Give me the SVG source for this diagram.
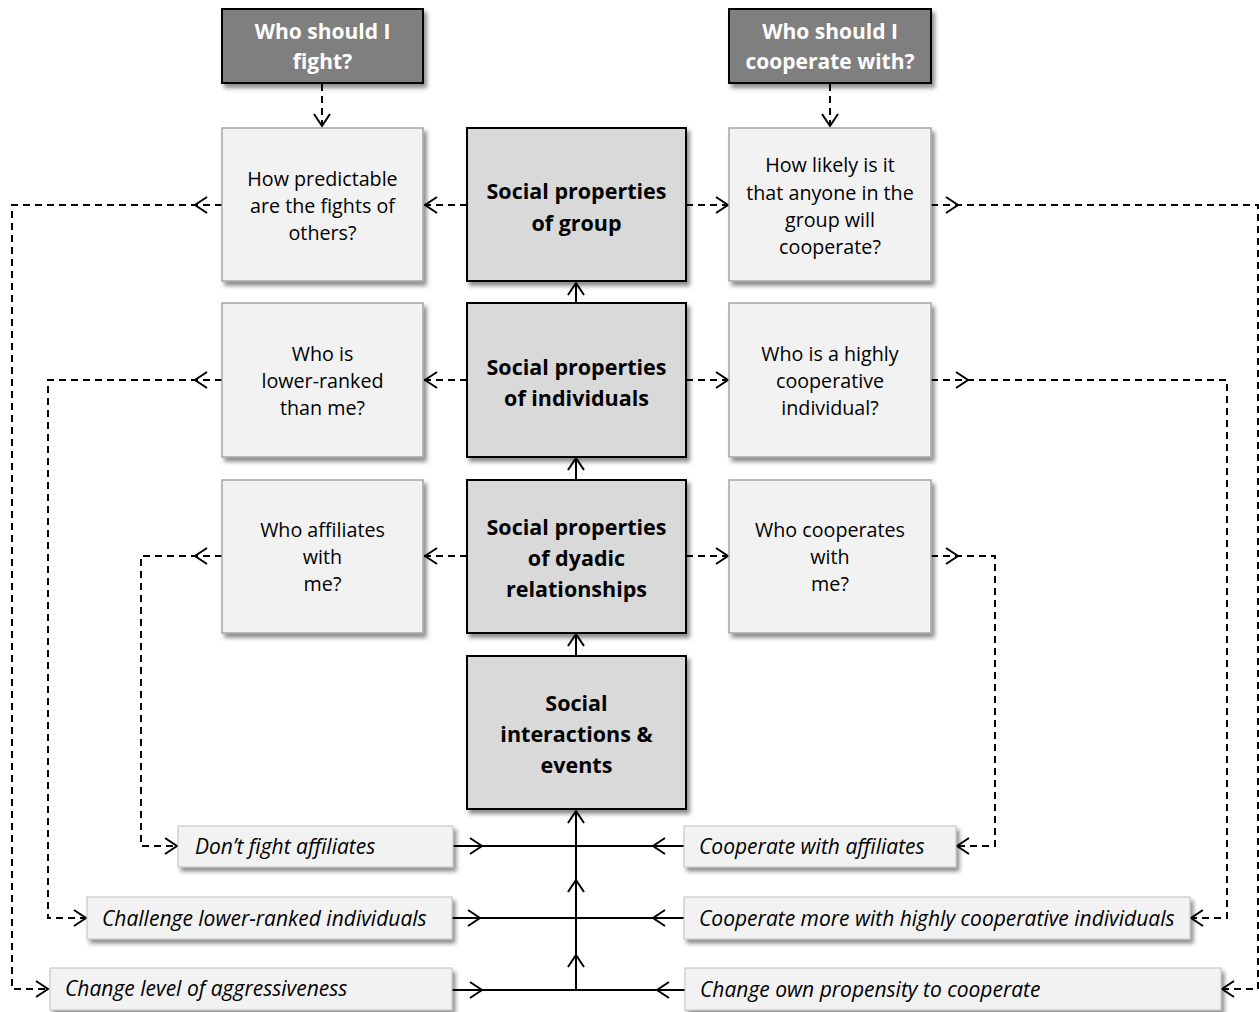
<svg xmlns="http://www.w3.org/2000/svg" xmlns:xlink="http://www.w3.org/1999/xlink" width="1259" height="1012" viewBox="0 0 1259 1012">
<defs>
<filter id="sh" x="-10%" y="-10%" width="130%" height="130%">
<feDropShadow dx="3" dy="4" stdDeviation="2" flood-color="#000" flood-opacity="0.45"/>
</filter>
<path id="chev" d="M12,-8 L0,0 L12,8" fill="none" stroke="#000" stroke-width="2"/>
</defs>
<style>
.dark{fill:#7f7f7f;stroke:#000;stroke-width:2;filter:url(#sh)}
.mid{fill:#d9d9d9;stroke:#000;stroke-width:2;filter:url(#sh)}
.light{fill:#f2f2f2;stroke:#a6a6a6;stroke-width:1.5;filter:url(#sh)}
.lab{fill:#f2f2f2;stroke:#bfbfbf;stroke-width:1;filter:url(#sh)}
text{font-family:"Open Sans","Noto Sans","DejaVu Sans",sans-serif;dominant-baseline:central}
.tw{fill:#fff;font-weight:bold;font-size:21px;text-anchor:middle}
.tb{fill:#000;font-weight:bold;font-size:21.5px;text-anchor:middle}
.tl{fill:#000;font-size:19.7px;text-anchor:middle}
.ti{fill:#000;font-size:21px;font-style:italic}
.d{fill:none;stroke:#000;stroke-width:2;stroke-dasharray:7,5}
.s{fill:none;stroke:#000;stroke-width:2}
</style>
<rect width="1259" height="1012" fill="#fff"/>

<g id="connectors">
<!-- top dashed -->
<path class="d" d="M322,84 V126"/>
<use xlink:href="#chev" transform="translate(322,126) rotate(-90)"/>
<path class="d" d="M830,84 V126"/>
<use xlink:href="#chev" transform="translate(830,126) rotate(-90)"/>
<!-- center to side boxes -->
<path class="d" d="M467,205 H424"/>
<use xlink:href="#chev" transform="translate(425,205)"/>
<path class="d" d="M686,205 H729"/>
<use xlink:href="#chev" transform="translate(728,205) rotate(180)"/>
<path class="d" d="M467,380 H424"/>
<use xlink:href="#chev" transform="translate(425,380)"/>
<path class="d" d="M686,380 H729"/>
<use xlink:href="#chev" transform="translate(728,380) rotate(180)"/>
<path class="d" d="M467,556 H424"/>
<use xlink:href="#chev" transform="translate(425,556)"/>
<path class="d" d="M686,556 H729"/>
<use xlink:href="#chev" transform="translate(728,556) rotate(180)"/>
<!-- left outer loops -->
<path class="d" d="M222,205 H12 V989 H48"/>
<use xlink:href="#chev" transform="translate(195,205)"/>
<use xlink:href="#chev" transform="translate(48,989) rotate(180)"/>
<path class="d" d="M222,380 H48 V918 H86"/>
<use xlink:href="#chev" transform="translate(195,380)"/>
<use xlink:href="#chev" transform="translate(86,918) rotate(180)"/>
<path class="d" d="M222,556 H141 V846 H177"/>
<use xlink:href="#chev" transform="translate(195,556)"/>
<use xlink:href="#chev" transform="translate(177,846) rotate(180)"/>
<!-- right outer loops -->
<path class="d" d="M931,205 H1258 V989 H1222"/>
<use xlink:href="#chev" transform="translate(958,205) rotate(180)"/>
<use xlink:href="#chev" transform="translate(1222,989)"/>
<path class="d" d="M931,380 H1227 V918 H1191"/>
<use xlink:href="#chev" transform="translate(968,380) rotate(180)"/>
<use xlink:href="#chev" transform="translate(1191,918)"/>
<path class="d" d="M931,556 H995 V846 H957"/>
<use xlink:href="#chev" transform="translate(958,556) rotate(180)"/>
<use xlink:href="#chev" transform="translate(957,846)"/>
<!-- center vertical arrows -->
<path class="s" d="M576,303 V283"/>
<use xlink:href="#chev" transform="translate(576,283) rotate(90)"/>
<path class="s" d="M576,480 V458"/>
<use xlink:href="#chev" transform="translate(576,458) rotate(90)"/>
<path class="s" d="M576,656 V634"/>
<use xlink:href="#chev" transform="translate(576,634) rotate(90)"/>
<!-- bottom solid -->
<path class="s" d="M576,990 V811"/>
<use xlink:href="#chev" transform="translate(576,811) rotate(90)"/>
<use xlink:href="#chev" transform="translate(576,880) rotate(90)"/>
<use xlink:href="#chev" transform="translate(576,955) rotate(90)"/>
<path class="s" d="M453,846 H684"/>
<use xlink:href="#chev" transform="translate(482,846) rotate(180)"/>
<use xlink:href="#chev" transform="translate(653,846)"/>
<path class="s" d="M452,918 H684"/>
<use xlink:href="#chev" transform="translate(480,918) rotate(180)"/>
<use xlink:href="#chev" transform="translate(653,918)"/>
<path class="s" d="M452,990 H685"/>
<use xlink:href="#chev" transform="translate(482,990) rotate(180)"/>
<use xlink:href="#chev" transform="translate(657,990)"/>
</g>

<g id="q-fight">
<rect class="dark" x="222" y="9" width="201" height="74"/>
<text class="tw" x="322.5" y="31">Who should I</text>
<text class="tw" x="322.5" y="61">fight?</text>
</g>
<g id="q-coop">
<rect class="dark" x="729" y="9" width="202" height="74"/>
<text class="tw" x="830" y="31">Who should I</text>
<text class="tw" x="830" y="61">cooperate with?</text>
</g>

<g id="predictable">
<rect class="light" x="222" y="128" width="201" height="153"/>
<text class="tl" x="322.5" y="178">How predictable</text>
<text class="tl" x="322.5" y="205">are the fights of</text>
<text class="tl" x="322.5" y="232">others?</text>
</g>
<g id="group">
<rect class="mid" x="467" y="128" width="219" height="153"/>
<text class="tb" x="576.5" y="190">Social properties</text>
<text class="tb" x="576.5" y="222">of group</text>
</g>
<g id="likely">
<rect class="light" x="729" y="128" width="202" height="153"/>
<text class="tl" x="830" y="164">How likely is it</text>
<text class="tl" x="830" y="192">that anyone in the</text>
<text class="tl" x="830" y="219">group will</text>
<text class="tl" x="830" y="246">cooperate?</text>
</g>

<g id="lower">
<rect class="light" x="222" y="303" width="201" height="154"/>
<text class="tl" x="322.5" y="353">Who is</text>
<text class="tl" x="322.5" y="380">lower-ranked</text>
<text class="tl" x="322.5" y="407">than me?</text>
</g>
<g id="individuals">
<rect class="mid" x="467" y="303" width="219" height="154"/>
<text class="tb" x="576.5" y="366">Social properties</text>
<text class="tb" x="576.5" y="397">of individuals</text>
</g>
<g id="highly">
<rect class="light" x="729" y="303" width="202" height="154"/>
<text class="tl" x="830" y="353">Who is a highly</text>
<text class="tl" x="830" y="380">cooperative</text>
<text class="tl" x="830" y="407">individual?</text>
</g>

<g id="affiliates">
<rect class="light" x="222" y="480" width="201" height="153"/>
<text class="tl" x="322.5" y="529">Who affiliates</text>
<text class="tl" x="322.5" y="556">with</text>
<text class="tl" x="322.5" y="583">me?</text>
</g>
<g id="dyadic">
<rect class="mid" x="467" y="480" width="219" height="153"/>
<text class="tb" x="576.5" y="526">Social properties</text>
<text class="tb" x="576.5" y="557">of dyadic</text>
<text class="tb" x="576.5" y="588">relationships</text>
</g>
<g id="cooperates">
<rect class="light" x="729" y="480" width="202" height="153"/>
<text class="tl" x="830" y="529">Who cooperates</text>
<text class="tl" x="830" y="556">with</text>
<text class="tl" x="830" y="583">me?</text>
</g>

<g id="interactions">
<rect class="mid" x="467" y="656" width="219" height="153"/>
<text class="tb" x="576.5" y="702">Social</text>
<text class="tb" x="576.5" y="733">interactions &amp;</text>
<text class="tb" x="576.5" y="764">events</text>
</g>

<g id="dont-fight">
<rect class="lab" x="178" y="826" width="275" height="41"/>
<text class="ti" x="195" y="846">Don’t fight affiliates</text>
</g>
<g id="challenge">
<rect class="lab" x="87" y="897" width="365" height="42"/>
<text class="ti" x="102" y="918">Challenge lower-ranked individuals</text>
</g>
<g id="aggressiveness">
<rect class="lab" x="50" y="968" width="402" height="42"/>
<text class="ti" x="65" y="988">Change level of aggressiveness</text>
</g>
<g id="coop-affiliates">
<rect class="lab" x="684" y="826" width="272" height="41"/>
<text class="ti" x="699" y="846">Cooperate with affiliates</text>
</g>
<g id="coop-more">
<rect class="lab" x="684" y="897" width="506" height="42"/>
<text class="ti" x="699" y="918">Cooperate more with highly cooperative individuals</text>
</g>
<g id="propensity">
<rect class="lab" x="685" y="968" width="536" height="42"/>
<text class="ti" x="700" y="989">Change own propensity to cooperate</text>
</g>
</svg>
